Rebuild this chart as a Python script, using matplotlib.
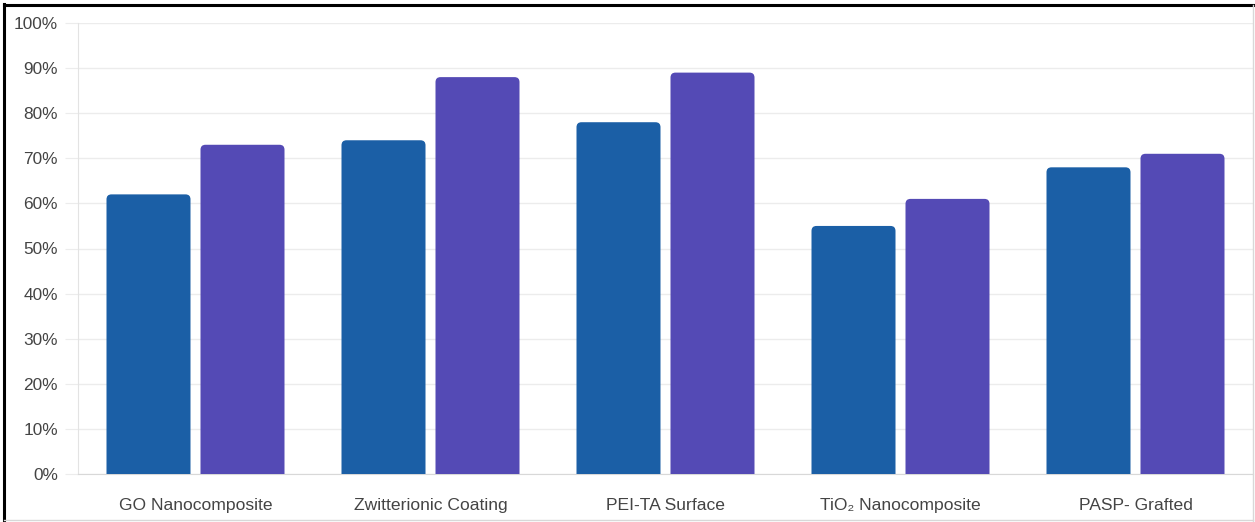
import matplotlib
matplotlib.use("Agg")
import matplotlib.pyplot as plt
from matplotlib.path import Path
from matplotlib.patches import PathPatch
from matplotlib.lines import Line2D

plt.rcParams['font.family'] = ['Liberation Sans', 'DejaVu Sans']

categories = ["GO Nanocomposite", "Zwitterionic Coating", "PEI-TA Surface",
              "TiO\u2082 Nanocomposite", "PASP- Grafted"]
series_a = [62, 74, 78, 55, 68]
series_b = [73, 88, 89, 61, 71]
yticks = [0, 10, 20, 30, 40, 50, 60, 70, 80, 90, 100]
ytick_labels = [f"{v}%" for v in yticks]

color_a = "#1b5fa6"
color_b = "#544ab5"

W, H = 1255, 522
fig = plt.figure(figsize=(W / 100, H / 100), dpi=100)
ax_left, ax_right, ax_top, ax_bottom = 78, 1253, 23, 474
ax = fig.add_axes([ax_left / W, 1 - ax_bottom / H,
                   (ax_right - ax_left) / W, (ax_bottom - ax_top) / H])
ax.set_xlim(0, len(categories))
ax.set_ylim(0, 100)

# pixel -> data scale factors for rounded corners
px_x = len(categories) / (ax_right - ax_left)
px_y = 100 / (ax_bottom - ax_top)


def rounded_bar(x0, width, height, color, r=5):
    rx, ry = r * px_x, r * px_y
    x1 = x0 + width
    verts = [
        (x0, 0), (x0, height - ry),
        (x0, height), (x0 + rx, height),
        (x1 - rx, height),
        (x1, height), (x1, height - ry),
        (x1, 0), (x0, 0),
    ]
    codes = [Path.MOVETO, Path.LINETO, Path.CURVE3, Path.CURVE3,
             Path.LINETO, Path.CURVE3, Path.CURVE3, Path.LINETO, Path.CLOSEPOLY]
    ax.add_patch(PathPatch(Path(verts, codes), facecolor=color,
                           edgecolor="none", zorder=3))


bar_w = 84 / 235
gap = 10 / 235
for i, (a, b) in enumerate(zip(series_a, series_b)):
    c = i + 0.5
    rounded_bar(c - gap / 2 - bar_w, bar_w, a, color_a)
    rounded_bar(c + gap / 2, bar_w, b, color_b)

# gridlines and axes styling
for s in ax.spines.values():
    s.set_visible(False)
ax.spines['left'].set_visible(True)
ax.spines['left'].set_color("#e3e3e3")
ax.spines['bottom'].set_visible(True)
ax.spines['bottom'].set_color("#d8d8d8")
ax.set_yticks(yticks)
ax.set_yticklabels(ytick_labels)
ax.yaxis.grid(True, color="#ececec", linewidth=1, zorder=0)
ax.set_axisbelow(True)
ax.tick_params(axis='y', length=9.4, color="#ececec", labelsize=12.4,
               labelcolor="#444444", pad=5)
ax.set_xticks([i + 0.5 for i in range(len(categories))])
ax.set_xticklabels(categories)
ax.tick_params(axis='x', length=0, labelsize=12.6, labelcolor="#444444", pad=17)

# outer frame
fig.add_artist(Line2D([4 / W, 4 / W], [0, 1 - 4 / H], color="black",
                      linewidth=2.2, transform=fig.transFigure))
fig.add_artist(Line2D([4 / W, 1], [1 - 5 / H, 1 - 5 / H], color="black",
                      linewidth=2.2, transform=fig.transFigure))
fig.add_artist(Line2D([1253 / W, 1253 / W], [0, 1 - 5 / H], color="#d8d8d8",
                      linewidth=1, transform=fig.transFigure))
fig.add_artist(Line2D([4 / W, 1253 / W], [1 - 520 / H, 1 - 520 / H],
                      color="#d8d8d8", linewidth=1, transform=fig.transFigure))

fig.savefig("out.png", dpi=100)
